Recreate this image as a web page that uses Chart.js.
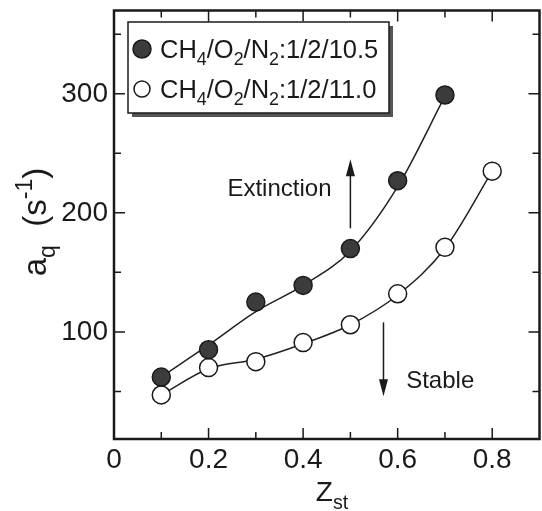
<!DOCTYPE html>
<html>
<head>
<meta charset="utf-8">
<script src="https://cdn.jsdelivr.net/npm/chart.js@4.4.1/dist/chart.umd.min.js"></script>
<style>
  html, body { margin: 0; padding: 0; background: #fff; overflow: hidden; }
</style>
</head>
<body>
<canvas id="chart" width="550" height="511"></canvas>
<script>
// measured points
const zstA = [0.1, 0.2, 0.3, 0.4, 0.5, 0.6, 0.7];
const aqA = [62, 85, 125, 139, 170, 227, 299];
const zstB = [0.1, 0.2, 0.3, 0.4, 0.5, 0.6, 0.7, 0.8];
const aqB = [47, 70, 75, 91, 106, 132, 171, 235];

// fitted curves
const fitA = [62, 89, 117, 139, 168, 222, 298];
const fitB = [47, 69, 77, 90, 106, 131, 170, 235];

const seriesLabels = ['CH_{4}/O_{2}/N_{2}:1/2/10.5', 'CH_{4}/O_{2}/N_{2}:1/2/11.0'];
const xTicks = [0, 0.2, 0.4, 0.6, 0.8];
const xMinor = [0.1, 0.3, 0.5, 0.7];
const yTicks = [100, 200, 300];
const yMinor = [50, 150, 250, 350];
const xTitle = 'Z_{st}';
const yTitle = 'a_{q}  (s^{-1})';
const notes = [
    { text: 'Extinction', x: 0.35, y: 220, arrowX: 0.50, from: 187, to: 245 },
    { text: 'Stable', x: 0.69, y: 58, arrowX: 0.57, from: 108, to: 46 }
];

const FONT = '"Liberation Sans", Arial, sans-serif';
const INK = '#1a1a1a';

function toPoints(xs, ys) {
    return xs.map((x, i) => ({ x: x, y: ys[i] }));
}

// 'CH_{4}' -> [{t:'CH',k:0},{t:'4',k:1}] ; k=1 subscript, k=-1 superscript
function parseRich(s) {
    const out = [];
    const re = /([_^])\{([^}]*)\}|([^_^]+)/g;
    let m;
    while ((m = re.exec(s))) {
        if (m[3]) out.push({ t: m[3], k: 0 });
        else out.push({ t: m[2], k: m[1] === '_' ? 1 : -1 });
    }
    return out;
}

function drawRich(ctx, s, x, y, size, align) {
    const segs = parseRich(s);
    let w = 0;
    segs.forEach(sg => {
        ctx.font = (sg.k ? size * 0.7 : size) + 'px ' + FONT;
        sg.w = ctx.measureText(sg.t).width;
        w += sg.w;
    });
    let cx = align === 'center' ? x - w / 2 : x;
    ctx.textAlign = 'left';
    ctx.textBaseline = 'alphabetic';
    segs.forEach(sg => {
        ctx.font = (sg.k ? size * 0.7 : size) + 'px ' + FONT;
        const dy = sg.k === 1 ? size * 0.28 : sg.k === -1 ? -size * 0.42 : 0;
        ctx.fillText(sg.t, cx, y + dy);
        cx += sg.w;
    });
}

function marker(ctx, x, y, r, filled) {
    ctx.beginPath();
    ctx.arc(x, y, r, 0, Math.PI * 2);
    ctx.fillStyle = filled ? '#3c3c3c' : '#ffffff';
    ctx.fill();
    ctx.lineWidth = 1.5;
    ctx.strokeStyle = INK;
    ctx.stroke();
}

const framePlugin = {
    id: 'frame',
    afterDraw(chart) {
        const ctx = chart.ctx;
        const a = chart.chartArea;
        const xs = chart.scales.x;
        const ys = chart.scales.y;
        ctx.save();

        // box
        ctx.strokeStyle = INK;
        ctx.lineWidth = 2.5;
        ctx.strokeRect(a.left, a.top, a.right - a.left, a.bottom - a.top);

        // inward ticks on all four sides
        ctx.lineWidth = 1.5;
        const tick = (vals, len, horiz) => {
            vals.forEach(v => {
                ctx.beginPath();
                if (horiz) {
                    const px = xs.getPixelForValue(v);
                    ctx.moveTo(px, a.bottom); ctx.lineTo(px, a.bottom - len);
                    ctx.moveTo(px, a.top); ctx.lineTo(px, a.top + len);
                } else {
                    const py = ys.getPixelForValue(v);
                    ctx.moveTo(a.left, py); ctx.lineTo(a.left + len, py);
                    ctx.moveTo(a.right, py); ctx.lineTo(a.right - len, py);
                }
                ctx.stroke();
            });
        };
        tick(xTicks.slice(1), 11, true);
        tick(xMinor, 7, true);
        tick(yTicks, 11, false);
        tick(yMinor, 7, false);

        // legend with drop shadow
        const lx = 128, ly = 22, lw = 261, lh = 91;
        ctx.fillStyle = '#555';
        ctx.fillRect(lx + 4, ly + 4, lw, lh);
        ctx.fillStyle = '#fff';
        ctx.fillRect(lx, ly, lw, lh);
        ctx.lineWidth = 1.5;
        ctx.strokeStyle = INK;
        ctx.strokeRect(lx, ly, lw, lh);
        seriesLabels.forEach((lab, i) => {
            const cy = ly + 27 + i * 40;
            marker(ctx, lx + 14, cy, i === 0 ? 9 : 8, i === 0);
            ctx.fillStyle = INK;
            drawRich(ctx, lab, lx + 32, cy + 9, 25.5, 'left');
        });

        // annotations with arrows
        notes.forEach(n => {
            ctx.fillStyle = INK;
            ctx.font = '24px ' + FONT;
            ctx.textAlign = 'center';
            ctx.textBaseline = 'middle';
            ctx.fillText(n.text, xs.getPixelForValue(n.x), ys.getPixelForValue(n.y));
            const ax = xs.getPixelForValue(n.arrowX);
            const y0 = ys.getPixelForValue(n.from);
            const y1 = ys.getPixelForValue(n.to);
            const dir = y1 < y0 ? -1 : 1;
            ctx.strokeStyle = INK;
            ctx.lineWidth = 1.5;
            ctx.beginPath();
            ctx.moveTo(ax, y0);
            ctx.lineTo(ax, y1 - dir * 14);
            ctx.stroke();
            ctx.beginPath();
            ctx.moveTo(ax, y1);
            ctx.lineTo(ax - 4.5, y1 - dir * 17);
            ctx.lineTo(ax + 4.5, y1 - dir * 17);
            ctx.closePath();
            ctx.fill();
        });

        // axis titles
        ctx.fillStyle = INK;
        drawRich(ctx, xTitle, 332, 501, 28, 'center');
        ctx.translate(46, 222);
        ctx.rotate(-Math.PI / 2);
        drawRich(ctx, yTitle, 0, 0, 33, 'center');

        ctx.restore();
    }
};

new Chart(document.getElementById('chart'), {
    type: 'scatter',
    data: {
        datasets: [
            {
                label: 'pointsA',
                data: toPoints(zstA, aqA),
                pointRadius: 9,
                pointBackgroundColor: '#3c3c3c',
                pointBorderColor: INK,
                pointBorderWidth: 1.5,
                order: 1
            },
            {
                label: 'pointsB',
                data: toPoints(zstB, aqB),
                pointRadius: 9,
                pointBackgroundColor: '#ffffff',
                pointBorderColor: INK,
                pointBorderWidth: 1.5,
                order: 1
            },
            {
                label: 'fitA',
                data: toPoints(zstA, fitA),
                showLine: true,
                borderColor: '#222',
                borderWidth: 1.5,
                pointRadius: 0,
                cubicInterpolationMode: 'monotone',
                order: 2
            },
            {
                label: 'fitB',
                data: toPoints(zstB, fitB),
                showLine: true,
                borderColor: '#222',
                borderWidth: 1.5,
                pointRadius: 0,
                cubicInterpolationMode: 'monotone',
                order: 2
            }
        ]
    },
    options: {
        responsive: false,
        animation: false,
        events: [],
        layout: { padding: { top: 4, right: 5, left: 0, bottom: 0 } },
        plugins: {
            legend: { display: false },
            tooltip: { enabled: false }
        },
        scales: {
            x: {
                type: 'linear',
                min: 0,
                max: 0.9,
                grid: { display: false, drawTicks: false },
                border: { display: false },
                afterBuildTicks: axis => { axis.ticks = xTicks.map(v => ({ value: v })); },
                afterFit: axis => { axis.height = 72; axis.paddingLeft = 0; axis.paddingRight = 0; },
                ticks: {
                    color: INK,
                    padding: 4,
                    maxRotation: 0,
                    autoSkip: false,
                    font: { family: FONT, size: 28 },
                    callback: v => String(v)
                }
            },
            y: {
                type: 'linear',
                min: 10,
                max: 370,
                grid: { display: false, drawTicks: false },
                border: { display: false },
                afterBuildTicks: axis => { axis.ticks = yTicks.map(v => ({ value: v })); },
                afterFit: axis => { axis.width = 114; axis.paddingTop = 0; axis.paddingBottom = 0; },
                ticks: {
                    color: INK,
                    padding: 6,
                    autoSkip: false,
                    font: { family: FONT, size: 28 }
                }
            }
        }
    },
    plugins: [framePlugin]
});
</script>
</body>
</html>
